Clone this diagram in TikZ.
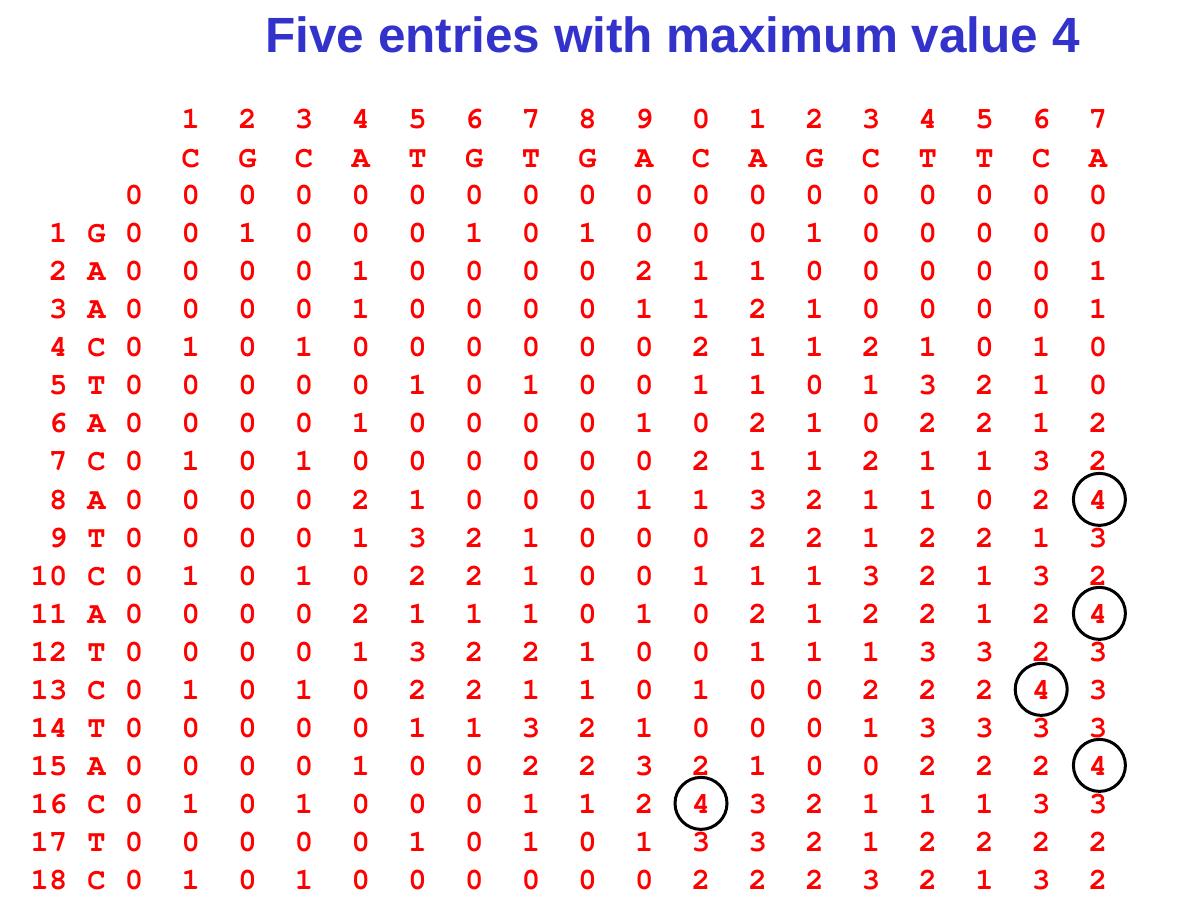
\documentclass[tikz,border=0pt]{standalone}
\usepackage[T1]{fontenc}
\usepackage{fontspec}
\newfontfamily\titlefont{Liberation Sans}
\newcommand{\cellfont}{\usefont{T1}{pcr}{b}{n}}
\definecolor{titleblue}{RGB}{51,51,204}
\definecolor{cellred}{RGB}{255,0,0}
\tikzset{
  cell/.style={font=\cellfont\fontsize{30.5}{30.5}\selectfont, text=cellred, inner sep=0pt, anchor=base},
  rowlab/.style={cell, anchor=base east},
  ring/.style={draw=black, line width=3pt, circle, minimum size=52pt, inner sep=0pt},
  heading/.style={font=\titlefont\bfseries\fontsize{49.5}{50}\selectfont, text=titleblue, inner sep=0pt, anchor=base}
}
\begin{document}
\begin{tikzpicture}[x=1pt,y=-1pt]
\useasboundingbox (0,0) rectangle (1179,909);
\node[heading] (title) at (672.5,53) {Five entries with maximum value 4};
% column numbers
\foreach \n [count=\j] in {1,2,3,4,5,6,7,8,9,0,1,2,3,4,5,6,7}
  \node[cell] (h-\j) at ({134+56.7*\j},129) {\n};
% top sequence
\foreach \L [count=\j] in {C,G,C,A,T,G,T,G,A,C,A,G,C,T,T,C,A}
  \node[cell] (t-\j) at ({134+56.7*\j},167.5) {\L};
% row 0
\foreach \j in {0,...,17}
  \node[cell] (c-0-\j) at ({134+56.7*\j},205) {0};
% row labels
\foreach \L [count=\i] in {G,A,A,C,T,A,C,A,T,C,A,T,C,T,A,C,T,C}{
  \node[rowlab] (r-\i) at (67.5,{205+38*\i}) {\i};
  \node[cell] (l-\i) at (96.5,{205+38*\i}) {\L};
}
% matrix
\foreach \r [count=\i] in {
 {0,0,1,0,0,0,1,0,1,0,0,0,1,0,0,0,0,0},
 {0,0,0,0,1,0,0,0,0,2,1,1,0,0,0,0,0,1},
 {0,0,0,0,1,0,0,0,0,1,1,2,1,0,0,0,0,1},
 {0,1,0,1,0,0,0,0,0,0,2,1,1,2,1,0,1,0},
 {0,0,0,0,0,1,0,1,0,0,1,1,0,1,3,2,1,0},
 {0,0,0,0,1,0,0,0,0,1,0,2,1,0,2,2,1,2},
 {0,1,0,1,0,0,0,0,0,0,2,1,1,2,1,1,3,2},
 {0,0,0,0,2,1,0,0,0,1,1,3,2,1,1,0,2,4},
 {0,0,0,0,1,3,2,1,0,0,0,2,2,1,2,2,1,3},
 {0,1,0,1,0,2,2,1,0,0,1,1,1,3,2,1,3,2},
 {0,0,0,0,2,1,1,1,0,1,0,2,1,2,2,1,2,4},
 {0,0,0,0,1,3,2,2,1,0,0,1,1,1,3,3,2,3},
 {0,1,0,1,0,2,2,1,1,0,1,0,0,2,2,2,4,3},
 {0,0,0,0,0,1,1,3,2,1,0,0,0,1,3,3,3,3},
 {0,0,0,0,1,0,0,2,2,3,2,1,0,0,2,2,2,4},
 {0,1,0,1,0,0,0,1,1,2,4,3,2,1,1,1,3,3},
 {0,0,0,0,0,1,0,1,0,1,3,3,2,1,2,2,2,2},
 {0,1,0,1,0,0,0,0,0,0,2,2,2,3,2,1,3,2}}{
  \foreach \v [count=\k] in \r {
    \pgfmathtruncatemacro{\j}{\k-1}
    \node[cell] (c-\i-\j) at ({134+56.7*\j},{205+38*\i}) {\v};
  }
}
% circled maxima
\node[ring] (m1) at ([xshift=1.5pt]c-8-17) {};
\node[ring] (m2) at ([xshift=1.5pt]c-11-17) {};
\node[ring] (m3) at (c-13-16) {};
\node[ring] (m4) at ([xshift=1.5pt]c-15-17) {};
\node[ring] (m5) at (c-16-10) {};
\end{tikzpicture}
\end{document}
